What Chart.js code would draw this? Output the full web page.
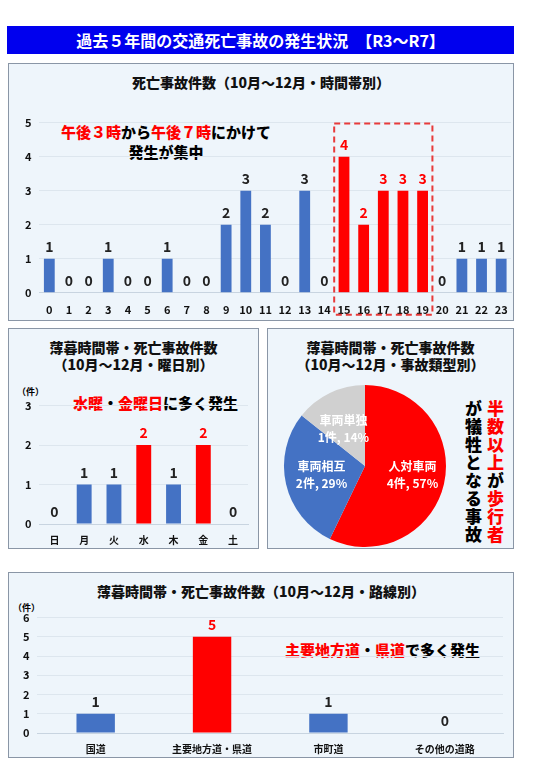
<!DOCTYPE html><html><head><meta charset="utf-8">
<script src="https://cdn.jsdelivr.net/npm/chart.js@4/dist/chart.umd.min.js"></script>
<style>
body{margin:0;width:533px;height:768px;background:#fff;font-family:"Noto Sans CJK JP",sans-serif;position:relative;overflow:hidden}
.bar{position:absolute;left:7px;top:26px;width:507px;height:28px;background:#0000ee;color:#fff;font-weight:bold;font-size:16px;text-align:center;line-height:28px}
.p{position:absolute;background:#eef5fb;border:1px solid #8a96a6;box-sizing:border-box}
.t{position:absolute;width:100%;text-align:center;font-weight:900;font-size:14px;color:#111;line-height:17px}
canvas{position:absolute}
.n{position:absolute;font-weight:900;font-size:15px;white-space:nowrap}
.r{color:#ff0000}
</style></head><body>
<div class="bar">過去５年間の交通死亡事故の発生状況　【R3～R7】</div>
<div class="p" style="left:8px;top:63px;width:506px;height:258px"><div class="t" style="top:10px">死亡事故件数（10月～12月・時間帯別）</div>
<div class="n" style="left:52px;top:58px;line-height:20px;text-align:center"><span class="r">午後３時</span>から<span class="r">午後７時</span>にかけて<br>発生が集中</div>
<canvas id="c1" style="left:0;top:44px" width="504" height="210"></canvas></div>
<div class="p" style="left:8px;top:328px;width:251px;height:221px"><div class="t" style="top:10px">薄暮時間帯・死亡事故件数<br>（10月～12月・曜日別）</div>
<div style="position:absolute;left:8px;top:56px;font-size:9px;font-weight:bold">（件）</div>
<div class="n" style="left:64px;top:63px"><span class="r">水曜</span>・<span class="r">金曜日</span>に多く発生</div>
<canvas id="c2" style="left:0;top:62px" width="249" height="157"></canvas></div>
<div class="p" style="left:267px;top:328px;width:247px;height:221px"><div class="t" style="top:10px">薄暮時間帯・死亡事故件数<br>（10月～12月・事故類型別）</div>
<canvas id="c3" style="left:14px;top:54px" width="166" height="166"></canvas>
<div class="n" style="left:194px;top:71px;writing-mode:vertical-rl;font-size:17px;line-height:22px;letter-spacing:1px"><span class="r">半数以上</span>が<span class="r">歩行者</span><br>が犠牲となる事故</div></div>
<div class="p" style="left:8px;top:572px;width:506px;height:186px"><div class="t" style="top:10px">薄暮時間帯・死亡事故件数（10月～12月・路線別）</div>
<div style="position:absolute;left:4px;top:28px;font-size:9px;font-weight:bold">（件）</div>
<div class="n" style="left:276px;top:66px"><span class="r">主要地方道</span>・<span class="r">県道</span>で多く発生</div>
<canvas id="c4" style="left:0;top:30px" width="504" height="154"></canvas></div>
<script>
const hours=['0','1','2','3','4','5','6','7','8','9','10','11','12','13','14','15','16','17','18','19','20','21','22','23'];
const hourVals=[1,0,0,1,0,0,1,0,0,2,3,2,0,3,0,4,2,3,3,3,0,1,1,1];
const hourRed=[15,16,17,18,19];
const days=['日','月','火','水','木','金','土'];
const dayVals=[0,1,1,2,1,2,0];
const dayRed=['水','金'];
const types=['人対車両','車両相互','車両単独'];
const typeVals=[4,2,1];
const typePct=[57,29,14];
const roads=['国道','主要地方道・県道','市町道','その他の道路'];
const roadVals=[1,5,1,0];
const roadRed=['主要地方道・県道'];
const BLUE='#4472c4',RED='#ff0000';
const F="'Noto Sans CJK JP',sans-serif";
Chart.defaults.font.family=F;Chart.defaults.animation=false;
const valLabels={id:'vl',afterDatasetsDraw(ch){const c=ch.ctx,m=ch.getDatasetMeta(0),ds=ch.data.datasets[0];
c.save();c.font="bold 14px "+F;c.textAlign='center';c.textBaseline='bottom';
m.data.forEach((b,i)=>{c.fillStyle=ds.backgroundColor[i]===RED?RED:'#222';c.fillText(ds.data[i],b.x,b.y-5);});c.restore();}};
const redBox={id:'rb',afterDraw(ch){const x=ch.scales.x,y=ch.scales.y;const l=(x.getPixelForValue(14)+x.getPixelForValue(15))/2,r=(x.getPixelForValue(19)+x.getPixelForValue(20))/2;
const c=ch.ctx;c.save();c.strokeStyle='#e83a3a';c.lineWidth=2;c.setLineDash([6,4]);c.strokeRect(l,y.getPixelForValue(4.97),r-l,y.bottom+22-y.getPixelForValue(4.97));c.restore();}};
function bar(id,labels,vals,colors,max,opt){
return new Chart(document.getElementById(id),{type:'bar',data:{labels,datasets:[{data:vals,backgroundColor:colors,barPercentage:opt.bp,categoryPercentage:1}]},
plugins:[valLabels].concat(opt.plugins||[]),
options:{responsive:false,layout:{padding:opt.pad},plugins:{legend:{display:false},tooltip:{enabled:false}},
scales:{x:{grid:{display:false},border:{color:'#c8d4e0'},ticks:{color:'#111',font:{size:opt.fx||11,weight:'bold'},padding:2}},
y:{min:0,max,grid:{color:'#dde6ee',drawTicks:false},border:{display:false},ticks:{stepSize:1,color:'#111',font:{size:11,weight:'bold'},padding:8}}}}});}
bar('c1',hours,hourVals,hours.map((h,i)=>hourRed.includes(i)?RED:BLUE),5,{bp:0.55,pad:{left:8,right:2,top:8,bottom:0},plugins:[redBox],fx:11});
bar('c2',days,dayVals,days.map(d=>dayRed.includes(d)?RED:BLUE),3,{bp:0.5,pad:{left:8,right:10,top:0,bottom:0},fx:10});
bar('c4',roads,roadVals,roads.map(r=>roadRed.includes(r)?RED:BLUE),6,{bp:0.33,pad:{left:6,right:10,top:0,bottom:0},fx:10});
const pieLab={id:'pl',afterDatasetsDraw(ch){const c=ch.ctx,m=ch.getDatasetMeta(0);c.save();c.font="bold 12px "+F;c.textAlign='center';c.textBaseline='middle';
m.data.forEach((a,i)=>{const p=a.tooltipPosition();c.fillStyle='#fff';c.fillText(types[i],p.x+(i==0?8:-4),p.y-9);c.fillText(typeVals[i]+'件, '+typePct[i]+'%',p.x+(i==0?8:-4),p.y+8);});c.restore();}};
new Chart(document.getElementById('c3'),{type:'pie',data:{labels:types,datasets:[{data:typeVals,backgroundColor:[RED,BLUE,'#d0d0d0'],borderWidth:0}]},
plugins:[pieLab],options:{responsive:false,layout:{padding:2},plugins:{legend:{display:false},tooltip:{enabled:false}}}});
</script></body></html>
